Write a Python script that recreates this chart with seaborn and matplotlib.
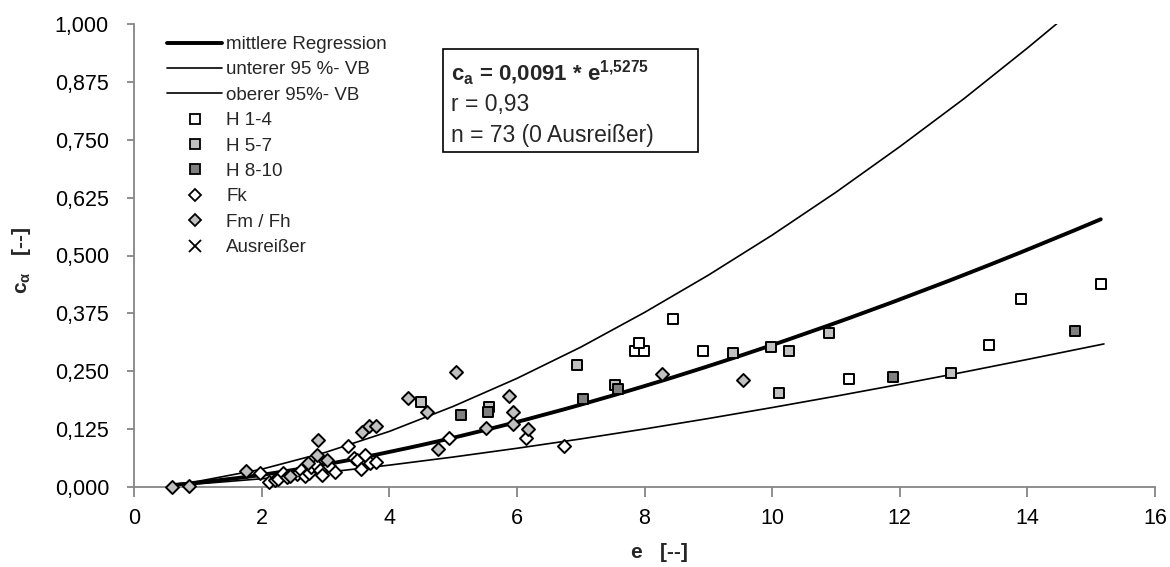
import numpy as np
import pandas as pd
import matplotlib
matplotlib.use("Agg")
import matplotlib.pyplot as plt
import seaborn as sns
from matplotlib.lines import Line2D
from matplotlib.patches import Rectangle
from matplotlib.ticker import FuncFormatter, FixedLocator

# ---- measured data: e [--] and c_alpha [--] per soil group ----
h14_e = [7.85, 7.99, 7.92, 8.45, 8.91, 11.21, 13.40, 13.90, 15.15]
h14_c = [0.294, 0.294, 0.312, 0.363, 0.294, 0.234, 0.307, 0.406, 0.438]

h57_e = [4.50, 5.57, 6.95, 7.54, 9.39, 9.98, 10.27, 10.89, 10.11, 12.80]
h57_c = [0.183, 0.173, 0.263, 0.220, 0.290, 0.303, 0.294, 0.333, 0.204, 0.247]

h810_e = [5.13, 5.54, 7.04, 7.58, 11.89, 14.74]
h810_c = [0.156, 0.161, 0.190, 0.212, 0.238, 0.337]

fk_e = [1.97, 2.12, 2.21, 2.26, 2.34, 2.40, 2.55, 2.62, 2.68, 2.75, 2.78, 2.85,
        2.91, 2.94, 3.05, 3.15, 3.36, 3.45, 3.49, 3.55, 3.62, 3.70, 3.80, 4.93,
        6.15, 6.74]
fk_c = [0.030, 0.011, 0.015, 0.017, 0.030, 0.022, 0.028, 0.037, 0.024, 0.030,
        0.044, 0.048, 0.037, 0.026, 0.045, 0.033, 0.089, 0.062, 0.059, 0.038,
        0.069, 0.052, 0.055, 0.106, 0.105, 0.089]

fmfh_e = [0.60, 0.86, 1.76, 2.45, 2.73, 2.86, 2.88, 3.02, 3.58, 3.69, 3.80,
          4.30, 4.59, 4.77, 5.05, 5.52, 5.87, 5.94, 5.94, 6.18, 8.27, 9.54]
fmfh_c = [0.000, 0.003, 0.035, 0.024, 0.051, 0.069, 0.102, 0.058, 0.119, 0.132,
          0.132, 0.193, 0.162, 0.081, 0.249, 0.128, 0.197, 0.163, 0.136, 0.125,
          0.244, 0.231]

# regression c_a = a * e^b and its 95 % confidence band
reg_a = 0.0091
reg_b = 1.5275
band_e = [0.6, 1, 2, 3, 4, 5, 6, 7, 8, 9, 10, 11, 12, 13, 14, 15.2]
band_lower = [0.0033, 0.0067, 0.0178, 0.0315, 0.0472, 0.0647, 0.0836, 0.1038,
              0.1253, 0.1479, 0.1716, 0.1962, 0.2217, 0.2481, 0.2755, 0.309]
band_upper = [0.0053, 0.0122, 0.0384, 0.0748, 0.120, 0.174, 0.2345, 0.302,
              0.377, 0.4575, 0.544, 0.6366, 0.735, 0.838, 0.948, 1.085]

x_ticks = [0, 2, 4, 6, 8, 10, 12, 14, 16]
y_ticks = [0, 0.125, 0.25, 0.375, 0.5, 0.625, 0.75, 0.875, 1.0]

# ---- style ----
sns.set_theme(style="white")
plt.rcParams["font.family"] = ["Liberation Sans", "DejaVu Sans"]
plt.rcParams["mathtext.fontset"] = "custom"
plt.rcParams["mathtext.rm"] = "Liberation Sans"
plt.rcParams["mathtext.bf"] = "Liberation Sans:bold"
plt.rcParams["mathtext.it"] = "Liberation Sans:bold"
plt.rcParams["mathtext.default"] = "bf"

AXIS_GREY = "#868686"
LIGHT = "#c0c0c0"
DARK = "#808080"

fig = plt.figure(figsize=(11.7, 5.67), dpi=100)
ax = fig.add_axes([134 / 1170, 80 / 567, 1021 / 1170, 463 / 567])

# ---- lines ----
all_e = np.sort(np.array(h14_e + h57_e + h810_e + fk_e + fmfh_e))
mean_df = pd.DataFrame({"e": all_e, "c": reg_a * all_e ** reg_b})
band_df = pd.DataFrame({"e": band_e, "lo": band_lower, "hi": band_upper})

sns.lineplot(data=mean_df, x="e", y="c", ax=ax, color="black", lw=2.8,
             sort=True, zorder=2)
sns.lineplot(data=band_df, x="e", y="lo", ax=ax, color="black", lw=1.2,
             zorder=2)
sns.lineplot(data=band_df, x="e", y="hi", ax=ax, color="black", lw=1.2,
             zorder=2)

# ---- measured points ----
groups = [
    (h14_e, h14_c, "s", "white", 60),
    (h57_e, h57_c, "s", LIGHT, 60),
    (h810_e, h810_c, "s", DARK, 60),
    (fk_e, fk_c, "D", "white", 44),
    (fmfh_e, fmfh_c, "D", LIGHT, 44),
]
for ev, cv, mk, fc, sz in groups:
    sns.scatterplot(x=ev, y=cv, ax=ax, marker=mk, color=fc, edgecolor="black",
                    linewidth=1.4, s=sz, zorder=3, clip_on=False, legend=False)

# ---- axes ----
ax.set_xlim(0, 16)
ax.set_ylim(0, 1)
ax.xaxis.set_major_locator(FixedLocator(x_ticks))
ax.yaxis.set_major_locator(FixedLocator(y_ticks))
ax.yaxis.set_major_formatter(FuncFormatter(lambda v, p: f"{v:.3f}".replace(".", ",")))
ax.xaxis.set_major_formatter(FuncFormatter(lambda v, p: f"{v:g}"))
for side in ("top", "right"):
    ax.spines[side].set_visible(False)
for side in ("left", "bottom"):
    ax.spines[side].set_color(AXIS_GREY)
    ax.spines[side].set_linewidth(1.3)
ax.tick_params(axis="x", direction="out", length=7, width=1.3, color=AXIS_GREY,
               labelsize=15.5, pad=8, labelcolor="black", bottom=True)
ax.tick_params(axis="y", direction="out", length=5, width=1.3, color=AXIS_GREY,
               labelsize=15.5, pad=13, labelcolor="black", left=True)
ax.grid(False)

ax.set_xlabel("e   [--]", fontsize=15, fontweight="bold")
ax.xaxis.label.set_va("center")
ax.xaxis.set_label_coords(0.515, -0.142)
ax.set_ylabel("$c_{α}$   [--]", fontsize=15, fontweight="bold")
ax.yaxis.label.set_va("center")
ax.yaxis.set_label_coords(-0.110, 0.49)

# ---- legend ----
handles = [
    Line2D([], [], color="black", lw=2.8),
    Line2D([], [], color="black", lw=1.2),
    Line2D([], [], color="black", lw=1.2),
    Line2D([], [], ls="none", marker="s", mfc="white", mec="black", mew=1.3, ms=7.5),
    Line2D([], [], ls="none", marker="s", mfc=LIGHT, mec="black", mew=1.3, ms=7.5),
    Line2D([], [], ls="none", marker="s", mfc=DARK, mec="black", mew=1.3, ms=7.5),
    Line2D([], [], ls="none", marker="D", mfc="white", mec="black", mew=1.3, ms=6),
    Line2D([], [], ls="none", marker="D", mfc=LIGHT, mec="black", mew=1.3, ms=6),
    Line2D([], [], ls="none", marker="x", color="black", mew=1.3, ms=8.5),
]
labels = ["mittlere Regression", "unterer 95 %- VB", "oberer 95%- VB",
          "H 1-4", "H 5-7", "H 8-10", "Fk", "Fm / Fh", "Ausreißer"]
fig.legend(handles, labels, loc="upper left",
           bbox_to_anchor=(167 / 1170, 1 - 36 / 567), frameon=False,
           fontsize=13.5, handlelength=2.95, handletextpad=0.22,
           labelspacing=0.44, borderpad=0, borderaxespad=0)

# ---- regression info box ----
bx0, bx1 = (443 - 134) / 1021, (698 - 134) / 1021
by0, by1 = (487 - 152) / 463, (487 - 49) / 463
ax.add_patch(Rectangle((bx0, by0), bx1 - bx0, by1 - by0, transform=ax.transAxes,
                       facecolor="white", edgecolor="black", lw=1.2, zorder=4))
tx = (451 - 134) / 1021
ax.text(tx, (487 - 81) / 463, "$c_a$ = 0,0091 * e$^{1{,}5275}$",
        transform=ax.transAxes, fontsize=16, fontweight="bold",
        va="baseline", ha="left", zorder=5)
ax.text(tx, (487 - 111) / 463, "r = 0,93", transform=ax.transAxes,
        fontsize=16.5, va="baseline", ha="left", zorder=5)
ax.text(tx, (487 - 142) / 463, "n = 73 (0 Ausreißer)", transform=ax.transAxes,
        fontsize=16.5, va="baseline", ha="left", zorder=5)

fig.savefig("out.png", dpi=100)
